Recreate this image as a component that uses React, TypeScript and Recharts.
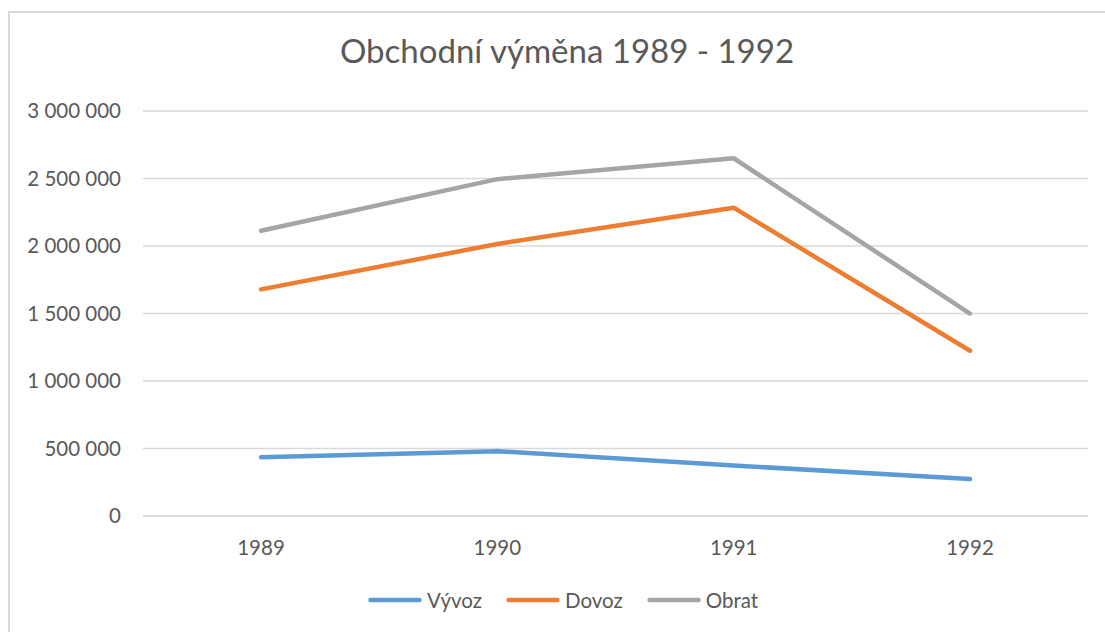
import React from 'react';
import { LineChart, Line, XAxis, YAxis, CartesianGrid, Legend } from 'recharts';

const categories = ['1989', '1990', '1991', '1992'];
const vyvoz = [435000, 480000, 374000, 274000];
const dovoz = [1679000, 2015000, 2284000, 1224000];
const obrat = [2113000, 2495000, 2650000, 1499000];
const yTicks = [0, 500000, 1000000, 1500000, 2000000, 2500000, 3000000];
const seriesNames = ['Vývoz', 'Dovoz', 'Obrat'];

const data = categories.map((year, i) => ({
  year,
  vyvoz: vyvoz[i],
  dovoz: dovoz[i],
  obrat: obrat[i],
}));

const TEXT = '#595959';
const GRID = '#d9d9d9';
const FONT = 'Lato, "Open Sans", sans-serif';
const TICK_SIZE = 20.5;

const fmt = (v: number) => String(v).replace(/\B(?=(\d{3})+(?!\d))/g, ' ');

const renderLegend = (props: any) => {
  const payload = [...(props.payload || [])].sort(
    (a: any, b: any) => seriesNames.indexOf(a.value) - seriesNames.indexOf(b.value)
  );
  return (
    <div style={{ display: 'flex', alignItems: 'center', paddingLeft: 368, height: 24 }}>
      {payload.map((e: any, i: number) => (
        <div key={i} style={{ display: 'flex', alignItems: 'center', marginRight: 24 }}>
          <svg width={54} height={10} style={{ display: 'block' }}>
            <line x1={2.5} y1={5} x2={51.5} y2={5} stroke={e.color} strokeWidth={4.5} strokeLinecap="round" />
          </svg>
          <span style={{ marginLeft: 5, fontSize: TICK_SIZE, color: TEXT, fontFamily: FONT, lineHeight: '24px' }}>
            {e.value}
          </span>
        </div>
      ))}
    </div>
  );
};

export default function App() {
  return (
    <div style={{ position: 'absolute', left: 0, top: 0, width: 1105, height: 632, overflow: 'hidden', fontFamily: FONT, background: '#fff' }}>
      <div
        style={{
          position: 'absolute',
          left: 8,
          top: 11,
          width: 1097,
          height: 621,
          borderLeft: `2px solid ${GRID}`,
          borderTop: `2px solid ${GRID}`,
          boxSizing: 'border-box',
        }}
      />
      <svg style={{ position: 'absolute', left: 0, top: 0 }} width={1105} height={80}>
        <text x={567} y={62.5} textAnchor="middle" fontSize={33} fill={TEXT} fontFamily={FONT}>
          Obchodní výměna 1989 - 1992
        </text>
      </svg>
      <div style={{ position: 'absolute', left: 0, top: 0 }}>
        <LineChart width={1105} height={632} data={data} margin={{ top: 111, right: 17, bottom: 0, left: 0 }}>
          <CartesianGrid vertical={false} stroke={GRID} strokeWidth={1.5} />
          <XAxis
            dataKey="year"
            height={116}
            interval={0}
            padding={{ left: 118, right: 118 }}
            tickLine={false}
            axisLine={{ stroke: GRID, strokeWidth: 1.5 }}
            tickSize={0}
            tickMargin={24}
            tick={{ fill: TEXT, fontSize: TICK_SIZE, fontFamily: FONT }}
          />
          <YAxis
            width={143}
            domain={[0, 3000000]}
            ticks={yTicks}
            interval={0}
            tickFormatter={fmt}
            axisLine={false}
            tickLine={false}
            tickSize={0}
            tickMargin={22}
            tick={{ fill: TEXT, fontSize: TICK_SIZE, fontFamily: FONT }}
          />
          <Legend
            layout="horizontal"
            verticalAlign="middle"
            align="center"
            content={renderLegend}
            wrapperStyle={{ top: 588, left: 0, width: 1105 }}
          />
          <Line type="linear" dataKey="vyvoz" name="Vývoz" stroke="#5b9bd5" strokeWidth={4.5} dot={false} activeDot={false} strokeLinecap="round" strokeLinejoin="round" isAnimationActive={false} />
          <Line type="linear" dataKey="dovoz" name="Dovoz" stroke="#ed7d31" strokeWidth={4.5} dot={false} activeDot={false} strokeLinecap="round" strokeLinejoin="round" isAnimationActive={false} />
          <Line type="linear" dataKey="obrat" name="Obrat" stroke="#a5a5a5" strokeWidth={4.5} dot={false} activeDot={false} strokeLinecap="round" strokeLinejoin="round" isAnimationActive={false} />
        </LineChart>
      </div>
    </div>
  );
}
